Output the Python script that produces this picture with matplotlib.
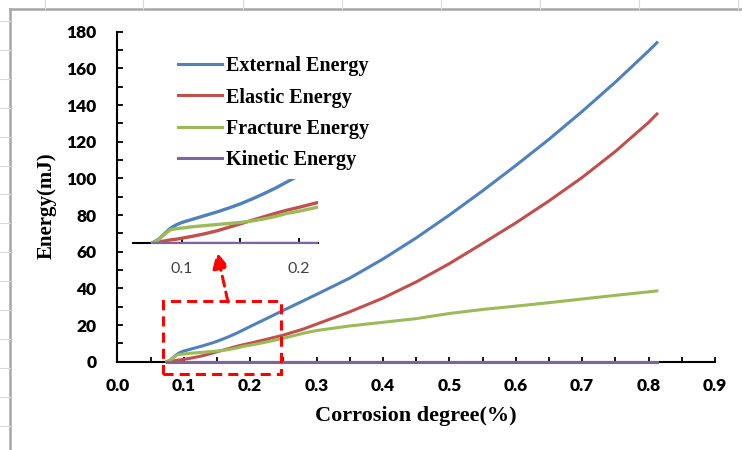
import numpy as np
import matplotlib.pyplot as plt
from matplotlib.patches import Rectangle
from matplotlib.lines import Line2D
from matplotlib.ticker import MultipleLocator, FormatStrFormatter

# data (corrosion degree vs energy in mJ)
corrosion = [0.075, 0.08, 0.085, 0.09, 0.095, 0.10, 0.11, 0.12, 0.13, 0.14,
             0.15, 0.16, 0.17, 0.18, 0.19, 0.20, 0.22, 0.25, 0.28, 0.30,
             0.35, 0.40, 0.45, 0.50, 0.55, 0.60, 0.65, 0.70, 0.75, 0.80, 0.8125]
external = [0, 1.0, 2.6, 4.1, 5.1, 5.8, 6.8, 7.8, 8.8, 9.9,
            11.1, 12.5, 14.0, 15.6, 17.4, 19.2, 22.7, 28.0, 33.2, 36.7,
            45.6, 56.0, 67.5, 80.0, 93.2, 107.0, 121.3, 136.5, 152.5, 169.5, 174.0]
elastic = [0, 0.2, 0.5, 0.8, 1.0, 1.3, 1.9, 2.6, 3.4, 4.4,
           5.4, 6.4, 7.4, 8.4, 9.3, 10.1, 11.8, 14.5, 17.8, 20.5,
           27.2, 34.7, 43.5, 53.5, 64.5, 75.7, 87.7, 100.5, 114.7, 130.5, 135.1]
fracture = [0, 0.9, 2.4, 3.7, 4.0, 4.2, 4.6, 4.9, 5.2, 5.5,
            5.8, 6.2, 6.8, 7.5, 8.4, 9.0, 10.4, 12.8, 15.5, 17.0,
            19.5, 21.5, 23.5, 26.3, 28.5, 30.3, 32.2, 34.2, 36.2, 38.1, 38.6]
kinetic = [0.0] * len(corrosion)

names = ["External Energy", "Elastic Energy", "Fracture Energy", "Kinetic Energy"]
colors = ["#4F81BD", "#C0504D", "#9BBB59", "#8064A2"]
series = [external, elastic, fracture, kinetic]

# zoom box and arrow (data coords)
box_x, box_y, box_w, box_h = 0.0688, -6.7, 0.1777, 39.8
arrow_from, arrow_to = (0.1667, 32.6), (0.150, 59.8)

fig = plt.figure(figsize=(7.42, 4.5), dpi=100)

# spreadsheet frame around the chart
fig.add_artist(Line2D([10/742, 10/742], [0, 1 - 9/450], color="#A6A6A6", lw=1.8))
fig.add_artist(Line2D([10/742, 1], [1 - 9/450, 1 - 9/450], color="#A6A6A6", lw=1.8))
for gx in [45, 143, 243, 342, 441, 540, 639, 738]:
    fig.add_artist(Line2D([gx/742, gx/742], [1 - 9/450, 1], color="#DADADA", lw=0.8))
for gy in np.arange(21, 450, 28.9):
    fig.add_artist(Line2D([0, 10/742], [1 - gy/450, 1 - gy/450], color="#DADADA", lw=0.8))

ax = fig.add_axes([0.1581, 0.1962, 0.8055, 0.7334])
for name, vals, c in zip(names, series, colors):
    ax.plot(corrosion, vals, color=c, lw=2.2, label=name, clip_on=False, zorder=3)

ax.set_xlim(0, 0.9)
ax.set_ylim(0, 180)
ax.xaxis.set_major_locator(MultipleLocator(0.1))
ax.xaxis.set_minor_locator(MultipleLocator(0.05))
ax.yaxis.set_major_locator(MultipleLocator(20))
ax.yaxis.set_minor_locator(MultipleLocator(10))
ax.xaxis.set_major_formatter(FormatStrFormatter("%.1f"))
for s in ["top", "right"]:
    ax.spines[s].set_visible(False)
for s in ["left", "bottom"]:
    ax.spines[s].set_linewidth(1.5)
ax.tick_params(axis="x", which="both", direction="in", length=3.5, width=1.3, pad=12)
ax.tick_params(axis="y", which="both", direction="in", length=4.5, width=1.3, pad=15)
for lab in ax.get_xticklabels() + ax.get_yticklabels():
    lab.set_fontfamily("Lato")
    lab.set_fontweight("heavy")
    lab.set_fontsize(12.5)

ax.set_xlabel("Corrosion degree(%)", fontfamily="Liberation Serif", fontweight="bold",
              fontsize=16, va="center")
ax.set_ylabel("Energy(mJ)", fontfamily="Liberation Serif", fontweight="bold",
              fontsize=15, va="center")
ax.xaxis.set_label_coords(0.5, -0.165)
ax.yaxis.set_label_coords(-0.118, 0.472)

leg = ax.legend(loc="upper left", bbox_to_anchor=(0.1016, 0.925), frameon=False,
                borderpad=0, borderaxespad=0, handlelength=2.2, handletextpad=0.2,
                labelspacing=0.55, prop={"family": "Liberation Serif", "weight": "bold", "size": 14.5})

# red dashed zoom box and arrow
ax.add_patch(Rectangle((box_x, box_y), box_w, box_h, fill=False, ec="red", lw=2.2,
                       ls=(0, (3.3, 2)), clip_on=False, zorder=4))
ax.annotate("", xy=arrow_to, xytext=arrow_from,
            arrowprops=dict(arrowstyle="-|>", color="red", lw=2.2, ls=(0, (3.3, 2)),
                            mutation_scale=24, shrinkA=0, shrinkB=0), annotation_clip=False)

# inset (same data, zoomed on the start of the curves)
ins = fig.add_axes([133/742, 1 - 244.1/450, 185/742, 65.4/450])
ins.patch.set_alpha(0)
for vals, c in zip(series, colors):
    ins.plot(corrosion, vals, color=c, lw=2.4, zorder=3)
ins.set_xlim(0.058, 0.2165)
ins.set_ylim(-0.4, 18.3)
for s in ["top", "right", "left"]:
    ins.spines[s].set_visible(False)
ins.spines["bottom"].set_position(("data", 0))
ins.spines["bottom"].set_linewidth(1.5)
ins.set_yticks([])
ins.set_xticks([0.1, 0.15, 0.2])
ins.set_xticklabels(["0.1", "", "0.2"], fontfamily="Lato", fontsize=11.5, color="#404040")
ins.tick_params(axis="x", direction="in", length=3.5, width=1.3, pad=14)

fig.savefig("out.png", dpi=100)
